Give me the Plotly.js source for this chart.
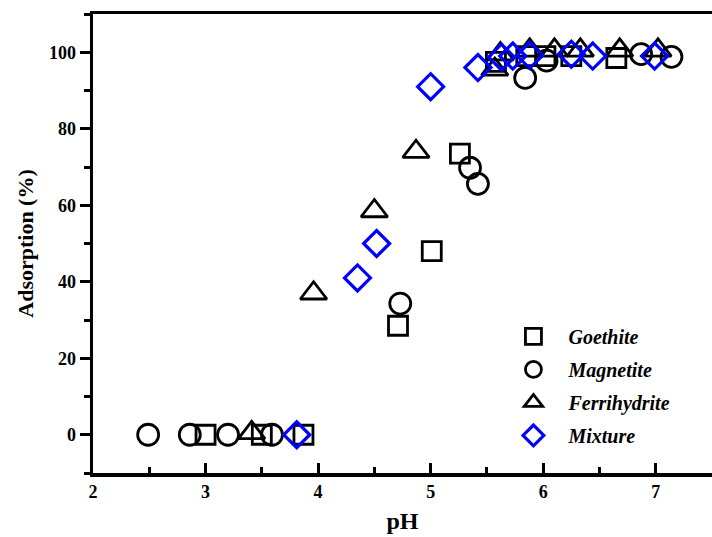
<!DOCTYPE html>
<html>
<head>
<meta charset="utf-8">
<script src="https://cdn.plot.ly/plotly-3.0.1.min.js"></script>
<style>html,body{margin:0;padding:0;background:#fff;}#chart{width:712px;height:537px;}</style>
</head>
<body>
<div id="chart"></div>
<script>
const goethiteX = [3.0, 3.5, 3.87, 4.71, 5.01, 5.26, 5.58, 5.85, 6.02, 6.25, 6.65];
const goethiteY = [0, 0, 0, 28.5, 48, 73.5, 97.5, 99, 99, 99, 98.5];
const magnetiteX = [2.49, 2.86, 3.2, 3.59, 4.73, 5.35, 5.42, 5.84, 6.03, 6.87, 7.14];
const magnetiteY = [0, 0, 0, 0, 34.3, 69.8, 65.6, 93.3, 97.8, 99.5, 98.8];
const ferriX = [3.41, 3.96, 4.5, 4.87, 5.57, 5.62, 5.88, 6.1, 6.33, 6.68, 7.02];
const ferriY = [0.5, 37, 58.5, 74, 95.5, 99.5, 100.5, 100.5, 100.5, 100.5, 100.5];
const mixtureX = [3.81, 4.35, 4.52, 5.0, 5.42, 5.63, 5.73, 5.88, 6.25, 6.44, 6.99];
const mixtureY = [0, 41, 50, 91, 96, 98.7, 99, 99.2, 99.5, 99, 99];
const names = ["Goethite", "Magnetite", "Ferrihydrite", "Mixture"];
const xTicks = [2, 3, 4, 5, 6, 7];
const yTicks = [0, 20, 40, 60, 80, 100];

const serif = "Liberation Serif";
function tr(x, y, name, symbol, color, size, w) {
  return {x: x, y: y, name: name, type: "scatter", mode: "markers", legendgroup: name,
    marker: {symbol: symbol, size: size, color: color, line: {color: color, width: w}}};
}
const data = [
  tr(goethiteX, goethiteY, names[0], "square-open", "#000", 19, 2.8),
  tr(magnetiteX, magnetiteY, names[1], "circle-open", "#000", 21, 2.8),
  tr(ferriX, ferriY, names[2], "triangle-up-open", "#000", 23, 2.8),
  tr(mixtureX, mixtureY, names[3], "diamond-open", "#0000ff", 20, 3.2)
];
const tickFont = {family: serif, size: 18, color: "#000", weight: "bold"};
const layout = {
  width: 712, height: 537,
  margin: {l: 93, r: 0, t: 14, b: 64},
  paper_bgcolor: "#fff", plot_bgcolor: "#fff",
  font: {family: serif, color: "#000", size: 18},
  showlegend: true,
  legend: {x: 0.655, y: 0.34, xanchor: "left", yanchor: "top", bgcolor: "rgba(0,0,0,0)",
    font: {family: serif, size: 20, weight: "bold", style: "italic", color: "#000"},
    tracegroupgap: 4, itemwidth: 60},
  xaxis: {range: [2, 7.5], showgrid: false, zeroline: false, showline: true, linewidth: 3.5, linecolor: "#000",
    mirror: true, ticks: "inside", ticklen: 10, tickwidth: 3, tickcolor: "#000",
    tickmode: "array", tickvals: xTicks, ticktext: xTicks.map(String),
    minor: {dtick: 0.5, tick0: 2, ticks: "inside", ticklen: 6, tickwidth: 3, tickcolor: "#000"},
    tickfont: tickFont,
    title: {text: "<b>pH</b>", font: {family: serif, size: 24}, standoff: 12}},
  yaxis: {range: [-10, 110], showgrid: false, zeroline: false, showline: true, linewidth: 3.5, linecolor: "#000",
    ticks: "outside", ticklen: 10, tickwidth: 3, tickcolor: "#000",
    tickmode: "array", tickvals: yTicks, ticktext: yTicks.map(String),
    minor: {dtick: 10, tick0: 0, ticks: "outside", ticklen: 6, tickwidth: 3, tickcolor: "#000"},
    tickfont: tickFont,
    title: {text: "<b>Adsorption (%)</b>", font: {family: serif, size: 22}, standoff: 10}}
};
Plotly.newPlot("chart", data, layout, {displayModeBar: false, staticPlot: true});
</script>
</body>
</html>
